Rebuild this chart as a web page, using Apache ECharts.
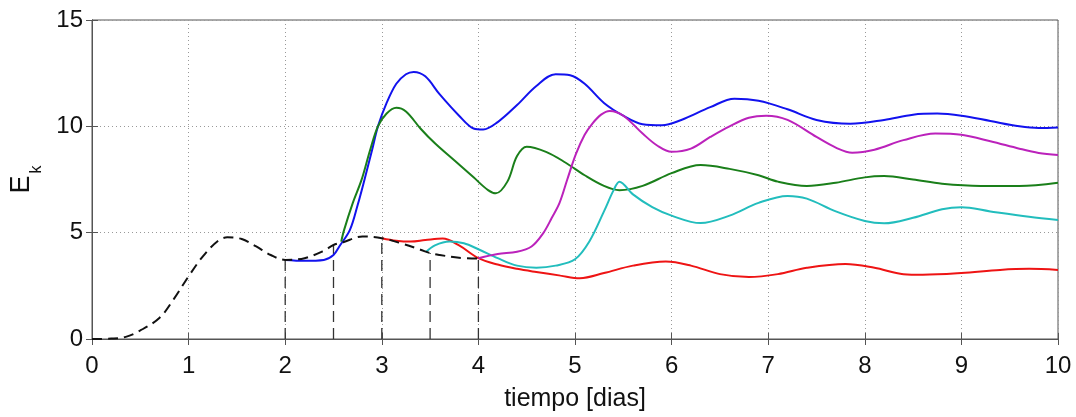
<!DOCTYPE html>
<html>
<head>
<meta charset="utf-8">
<script src="https://cdn.jsdelivr.net/npm/echarts@6/dist/echarts.min.js"></script>
<style>
html,body{margin:0;padding:0;background:#fff;}
#chart{width:1076px;height:417px;}
</style>
</head>
<body>
<div id="chart"></div>
<script>
// ---- data (time in days, kinetic energy) ----
var xTicks = [0,1,2,3,4,5,6,7,8,9,10];
var yTicks = [0,5,10,15];

var baseT = [0,0.2,0.35,0.5,0.7,0.85,1.0,1.15,1.3,1.4,1.55,1.7,1.85,2.0,2.2,2.4,2.5,2.6,2.8,3.0,3.2,3.4,3.5,3.6,3.8,4.0];
var baseE = [0,0.02,0.1,0.4,1.0,1.9,2.95,3.9,4.6,4.78,4.7,4.35,3.95,3.72,3.8,4.15,4.42,4.55,4.82,4.74,4.5,4.2,4.04,3.95,3.82,3.78];

var dropX = [2,2.5,3,3.5,4];
var dropTop = [3.72,4.42,4.74,4.04,3.78];

var blueT = [2.0,2.2,2.4,2.5,2.56,2.67,2.75,2.82,2.9,2.96,3.05,3.15,3.25,3.33,3.45,3.6,3.8,3.95,4.05,4.2,4.4,4.6,4.8,4.95,5.1,5.3,5.5,5.7,5.9,6.1,6.4,6.65,6.9,7.2,7.5,7.85,8.2,8.5,8.75,9.0,9.3,9.6,9.8,10.0];
var blueE = [3.72,3.68,3.72,3.95,4.35,5.13,6.3,7.48,8.9,10.0,11.1,12.0,12.45,12.56,12.35,11.5,10.5,9.9,9.85,10.2,11.0,11.9,12.45,12.4,12.0,11.1,10.5,10.1,10.05,10.3,10.9,11.3,11.2,10.8,10.3,10.12,10.3,10.55,10.6,10.5,10.25,10.0,9.92,9.95];

var greenT = [2.58,2.61,2.7,2.79,2.88,2.96,3.05,3.15,3.25,3.4,3.55,3.75,3.95,4.1,4.18,4.3,4.4,4.5,4.7,4.9,5.1,5.3,5.46,5.7,6.0,6.3,6.6,6.9,7.1,7.4,7.7,8.0,8.2,8.5,8.8,9.2,9.6,10.0];
var greenE = [4.58,5.13,6.4,7.48,8.9,10.0,10.6,10.87,10.7,9.9,9.2,8.4,7.6,7.0,6.85,7.4,8.6,9.04,8.8,8.3,7.7,7.2,7.0,7.2,7.8,8.18,8.0,7.7,7.4,7.2,7.35,7.6,7.66,7.5,7.3,7.2,7.2,7.35];

var redT = [3.0,3.15,3.3,3.45,3.63,3.8,4.0,4.2,4.4,4.6,4.85,5.05,5.3,5.6,5.94,6.2,6.5,6.8,7.1,7.4,7.8,8.1,8.4,8.6,9.0,9.4,9.7,10.0];
var redE = [4.74,4.62,4.58,4.65,4.72,4.4,3.8,3.5,3.3,3.15,2.98,2.86,3.1,3.45,3.64,3.45,3.05,2.91,3.05,3.35,3.53,3.35,3.05,3.02,3.1,3.25,3.3,3.25];

var cyanT = [3.46,3.55,3.7,3.85,4.0,4.2,4.4,4.6,4.8,5.0,5.15,5.3,5.4,5.46,5.6,5.8,6.0,6.3,6.6,6.9,7.2,7.4,7.7,8.0,8.2,8.5,8.8,9.0,9.3,9.7,10.0];
var cyanE = [4.1,4.4,4.58,4.5,4.22,3.8,3.45,3.35,3.45,3.75,4.6,6.0,7.0,7.4,6.8,6.2,5.8,5.45,5.8,6.4,6.73,6.6,6.0,5.55,5.44,5.7,6.1,6.2,6.0,5.75,5.6];

var magT = [4.0,4.2,4.4,4.55,4.67,4.76,4.84,4.92,5.01,5.1,5.18,5.27,5.36,5.5,5.7,5.85,6.0,6.2,6.4,6.6,6.8,6.98,7.2,7.5,7.7,7.87,8.1,8.4,8.73,9.0,9.3,9.6,9.8,10.0];
var magE = [3.8,4.0,4.1,4.35,4.97,5.7,6.4,7.5,8.7,9.6,10.13,10.55,10.72,10.5,9.66,9.1,8.8,8.95,9.5,10.0,10.4,10.5,10.3,9.5,9.0,8.76,8.9,9.35,9.66,9.6,9.3,8.95,8.75,8.65];

function pairs(t, e){ return t.map(function(v,i){ return [v, e[i]]; }); }

var FONT = '"Liberation Sans", Arial, sans-serif';
var chart = echarts.init(document.getElementById('chart'), null, {renderer:'canvas'});

function colored(name, color, t, e){
  return {name:name, type:'line', data:pairs(t,e), showSymbol:false, smooth:0.35,
    lineStyle:{color:color, width:2}, z:3, animation:false};
}

var series = [
  colored('azul','#1212ee',blueT,blueE),
  colored('verde','#1a7f1a',greenT,greenE),
  colored('rojo','#ee1414',redT,redE),
  colored('cian','#22bdbd',cyanT,cyanE),
  colored('magenta','#bb22bb',magT,magE),
  {name:'base', type:'line', data:pairs(baseT,baseE), showSymbol:false, smooth:0.35,
   lineStyle:{color:'#111', width:2, type:[10,6]}, z:4, animation:false}
];
dropX.forEach(function(x,i){
  series.push({type:'line', data:[[x,0],[x,dropTop[i]]], showSymbol:false,
    lineStyle:{color:'#333', width:1.3, type:[11,6]}, z:2, animation:false});
});

var tickLbl = {color:'#111', fontSize:24, fontFamily:FONT};
chart.setOption({
  backgroundColor:'#fff',
  animation:false,
  grid:{left:92, right:18, top:20, bottom:78, show:true, borderColor:'#555', borderWidth:1},
  xAxis:[{
    type:'value', min:0, max:10, interval:1,
    axisLine:{show:true, lineStyle:{color:'#555', width:1}},
    axisTick:{show:true, inside:true, length:6, lineStyle:{color:'#555'}},
    axisLabel:Object.assign({margin:15, formatter:function(v){return xTicks.indexOf(v)>=0?String(v):'';}}, tickLbl),
    splitLine:{show:true, lineStyle:{color:'#999', width:1, type:[1,3]}},
    name:'tiempo [dias]', nameLocation:'middle', nameGap:48,
    nameTextStyle:{color:'#111', fontSize:25, fontFamily:FONT}
  },{
    type:'value', min:0, max:10, interval:1, position:'top',
    axisLine:{show:true, lineStyle:{color:'#555'}},
    axisTick:{show:true, inside:true, length:6, lineStyle:{color:'#555'}},
    axisLabel:{show:false}, splitLine:{show:false}
  }],
  yAxis:[{
    type:'value', min:0, max:15, interval:5,
    axisLine:{show:true, lineStyle:{color:'#555', width:1}},
    axisTick:{show:true, inside:true, length:6, lineStyle:{color:'#555'}},
    axisLabel:Object.assign({margin:9, formatter:function(v){return yTicks.indexOf(v)>=0?String(v):'';}}, tickLbl),
    splitLine:{show:true, lineStyle:{color:'#999', width:1, type:[1,3]}},
    name:'{e|E}{k|k}', nameLocation:'middle', nameGap:56, nameRotate:90,
    nameTextStyle:{color:'#111', fontFamily:FONT, rich:{
      e:{fontSize:27, lineHeight:28, verticalAlign:'top', color:'#111', fontFamily:FONT},
      k:{fontSize:16, lineHeight:16, verticalAlign:'top', padding:[21,0,0,2], color:'#111', fontFamily:FONT}
    }}
  },{
    type:'value', min:0, max:15, interval:5, position:'right',
    axisLine:{show:true, lineStyle:{color:'#555'}},
    axisTick:{show:true, inside:true, length:6, lineStyle:{color:'#555'}},
    axisLabel:{show:false}, splitLine:{show:false}
  }],
  series:series
});
</script>
</body>
</html>
